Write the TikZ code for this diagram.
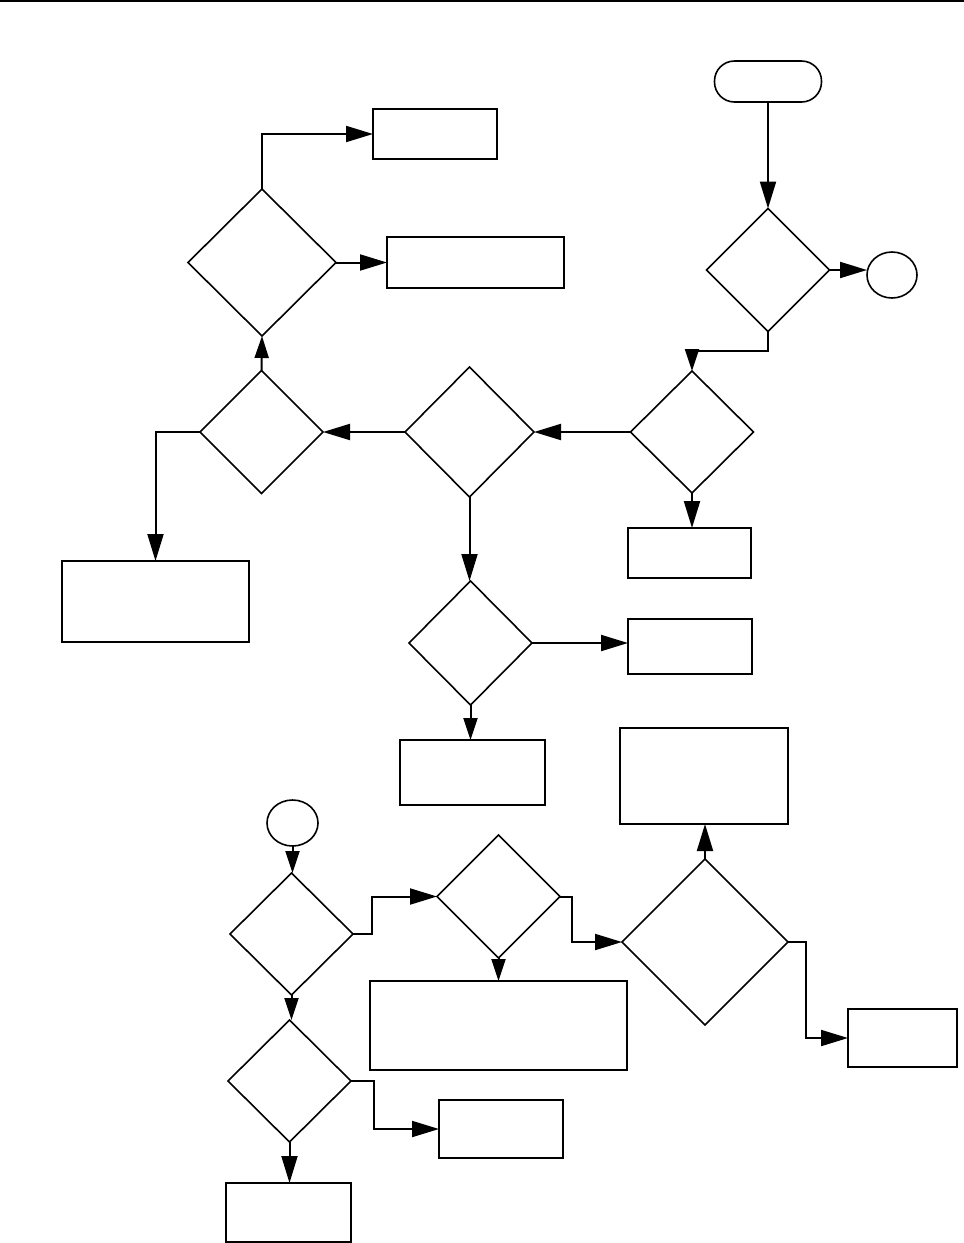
\documentclass[tikz,border=0pt]{standalone}
\usetikzlibrary{shapes.geometric,arrows.meta}
\begin{document}
\begin{tikzpicture}[x=1pt,y=-1pt,
  every node/.style={draw, line width=1.8pt, inner sep=0pt, outer sep=0pt},
  box/.style={rectangle},
  dia/.style={diamond, line width=1.6pt},
  circ/.style={ellipse, line width=1.6pt},
  term/.style={rectangle, rounded corners=20pt, line width=1.6pt},
  arr/.style={line width=2pt, -{Triangle[length=27pt,width=16pt]}},
  sarr/.style={line width=2pt, -{Triangle[length=22pt,width=14pt]}}]
\useasboundingbox (0,0) rectangle (964,1243);
\fill (0,0) rectangle (964,2.2);
% terminal and circles
\node[term, minimum width=107pt, minimum height=41pt] (start) at (768,81.5) {};
\node[circ, minimum width=50pt, minimum height=46pt] (c1) at (892,275) {};
\node[circ, minimum width=51pt, minimum height=46pt] (c2) at (292.5,823) {};
% diamonds
\node[dia, minimum width=123pt, minimum height=123pt] (d1) at (768,270) {};
\node[dia, minimum width=123pt, minimum height=122pt] (d2) at (692,432) {};
\node[dia, minimum width=129pt, minimum height=130pt] (d3) at (469.5,432) {};
\node[dia, minimum width=123pt, minimum height=123pt] (d4) at (261.5,432) {};
\node[dia, minimum width=148pt, minimum height=147pt] (d5) at (262,262.5) {};
\node[dia, minimum width=123pt, minimum height=124pt] (d6) at (470.5,643) {};
\node[dia, minimum width=123pt, minimum height=122pt] (d7) at (291.5,934) {};
\node[dia, minimum width=123pt, minimum height=123pt] (d8) at (498.5,896.5) {};
\node[dia, minimum width=166pt, minimum height=166pt] (d9) at (705,942) {};
\node[dia, minimum width=123pt, minimum height=122pt] (d10) at (289.5,1081) {};
% boxes
\node[box, minimum width=124pt, minimum height=50pt] (b3) at (435,134) {};
\node[box, minimum width=177pt, minimum height=51pt] (b4) at (475.5,262.5) {};
\node[box, minimum width=123pt, minimum height=50pt] (b1) at (689.5,553) {};
\node[box, minimum width=187pt, minimum height=81pt] (b2) at (155.5,601.5) {};
\node[box, minimum width=124pt, minimum height=55pt] (b5) at (690,646.5) {};
\node[box, minimum width=145pt, minimum height=65pt] (b6) at (472.5,772.5) {};
\node[box, minimum width=168pt, minimum height=96pt] (b8) at (704,776) {};
\node[box, minimum width=257pt, minimum height=89pt] (b7) at (498.5,1025.5) {};
\node[box, minimum width=109pt, minimum height=58pt] (b9) at (902.5,1038) {};
\node[box, minimum width=124pt, minimum height=58pt] (b10) at (501,1129) {};
\node[box, minimum width=125pt, minimum height=59pt] (b11) at (288.5,1212.5) {};
% connectors
\draw[arr] (start.south) -- (d1.north);
\draw[arr] (d1.east) -- (c1.west |- d1.east);
\draw[sarr] (d1.south) -- ++(0,19) -| (d2.north);
\draw[arr] (d2.south) -- (d2.south |- b1.north);
\draw[arr] (d2.west) -- (d3.east);
\draw[arr] (d3.west) -- (d4.east);
\draw[arr] (d4.west) -| (b2.north);
\draw[sarr] (d4.north) -- (d5.south);
\draw[arr] (d5.north) |- (b3.west);
\draw[arr] (d5.east) -- (b4.west);
\draw[arr] (d3.south) -- (d3.south |- d6.north);
\draw[arr] (d6.east) -- (b5.west |- d6.east);
\draw[sarr] (d6.south) -- (d6.south |- b6.north);
\draw[sarr] (c2.south) -- (c2.south |- d7.north);
\draw[arr] (d7.east) -- ++(19,0) |- (d8.west);
\draw[sarr] (d8.south) -- (d8.south |- b7.north);
\draw[arr] (d8.east) -- ++(12,0) |- (d9.west);
\draw[arr] (d9.north) -- (d9.north |- b8.south);
\draw[arr] (d9.east) -- ++(18,0) |- (b9.west);
\draw[sarr] (d7.south) -- (d7.south |- d10.north);
\draw[arr] (d10.east) -- ++(23,0) |- (b10.west);
\draw[arr] (d10.south) -- (d10.south |- b11.north);
\end{tikzpicture}
\end{document}
